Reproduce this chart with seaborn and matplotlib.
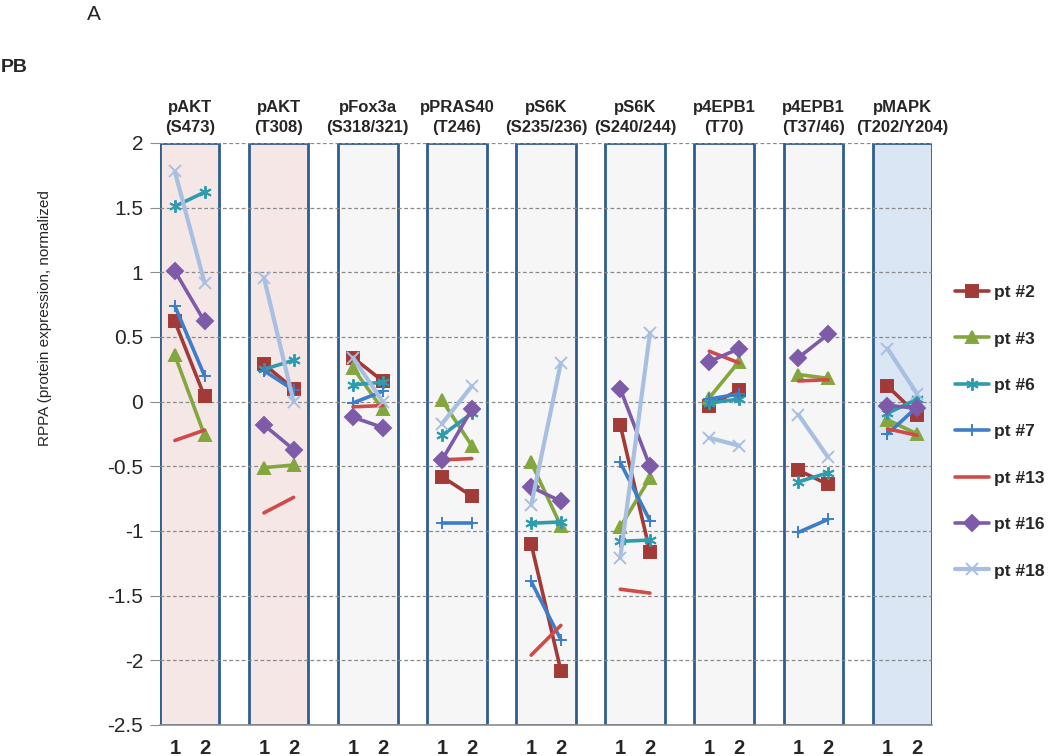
import pandas as pd
import matplotlib
matplotlib.use("Agg")
import matplotlib.pyplot as plt
from matplotlib.lines import Line2D
import seaborn as sns

# proteins / phospho sites, one panel each
proteins = ['pAKT\n(S473)', 'pAKT\n(T308)', 'pFox3a\n(S318/321)', 'pPRAS40\n(T246)',
            'pS6K\n(S235/236)', 'pS6K\n(S240/244)', 'p4EPB1\n(T70)', 'p4EPB1\n(T37/46)',
            'pMAPK\n(T202/Y204)']
box_colors = ['#F6E7E7', '#F6E7E7', '#F6F6F6', '#F6F6F6', '#F6F6F6', '#F6F6F6',
              '#F6F6F6', '#F6F6F6', '#DBE6F4']
timepoints = ['1', '2']

patients = ['pt #2', 'pt #3', 'pt #6', 'pt #7', 'pt #13', 'pt #16', 'pt #18']
colors = ['#A23A37', '#84A63F', '#2F9BAE', '#3E7EC8', '#D04B48', '#7E5BA8', '#A9BFE1']
markers = ['s', '^', (6, 2, 0), '+', None, 'D', 'x']

# (timepoint 1, timepoint 2) per protein
pt2 = [(0.62, 0.04), (0.29, 0.10), (0.34, 0.16), (-0.58, -0.73), (-1.10, -2.08),
       (-0.18, -1.16), (-0.03, 0.09), (-0.53, -0.64), (0.12, -0.10)]
pt3 = [(0.36, -0.26), (-0.51, -0.49), (0.26, -0.06), (0.01, -0.34), (-0.47, -0.96),
       (-0.97, -0.59), (0.03, 0.31), (0.21, 0.18), (-0.14, -0.25)]
pt6 = [(1.51, 1.62), (0.25, 0.32), (0.13, 0.15), (-0.26, -0.09), (-0.94, -0.93),
       (-1.08, -1.07), (-0.01, 0.02), (-0.62, -0.55), (-0.09, 0.02)]
pt7 = [(0.74, 0.20), (0.24, 0.09), (-0.01, 0.08), (-0.94, -0.94), (-1.39, -1.84),
       (-0.47, -0.92), (0.02, 0.06), (-1.01, -0.91), (-0.25, -0.04)]
pt13 = [(-0.30, -0.22), (-0.86, -0.74), (-0.04, -0.03), (-0.45, -0.44), (-1.96, -1.73),
        (-1.45, -1.48), (0.39, 0.30), (0.16, 0.17), (-0.21, -0.26)]
pt16 = [(1.01, 0.62), (-0.18, -0.37), (-0.12, -0.20), (-0.45, -0.06), (-0.66, -0.77),
        (0.10, -0.50), (0.31, 0.41), (0.34, 0.52), (-0.03, -0.05)]
pt18 = [(1.78, 0.92), (0.96, 0.00), (0.34, 0.00), (-0.17, 0.12), (-0.80, 0.30),
        (-1.21, 0.53), (-0.28, -0.34), (-0.10, -0.43), (0.41, 0.06)]
all_values = [pt2, pt3, pt6, pt7, pt13, pt16, pt18]

yticks = [2, 1.5, 1, 0.5, 0, -0.5, -1, -1.5, -2, -2.5]
ytick_labels = ['2', '1.5', '1', '0.5', '0', '-0.5', '-1', '-1.5', '-2', '-2.5']

# long table: each protein takes 3 category slots (1, 2, gap)
rows = []
for pt, vals in zip(patients, all_values):
    for k, pair in enumerate(vals):
        for t, v in enumerate(pair):
            rows.append({'patient': pt, 'protein': k, 'pos': 3 * k + t, 'value': v})
df = pd.DataFrame(rows)

sns.set_style("white")
plt.rcParams['font.family'] = ['Liberation Sans', 'DejaVu Sans']

fig = plt.figure(figsize=(10.5, 7.56), dpi=100)
ax = fig.add_axes([160 / 1050, 31 / 756, 772 / 1050, 582 / 756])

# panel boxes
centers = [3 * k + 0.5 for k in range(len(proteins))]
ax.bar(centers, height=4.5, bottom=-2.5, width=2, color=box_colors,
       edgecolor='#2F5D8F', linewidth=2, zorder=1)

handles = []
for pt, col, mk in zip(patients, colors, markers):
    sub = df[df['patient'] == pt]
    lw = 3.0 if pt == 'pt #18' else 2.6
    ms = 8 if mk in ('s', '^', 'D') else 9
    sns.lineplot(data=sub, x='pos', y='value', units='protein', estimator=None,
                 color=col, marker=mk, markersize=ms, markeredgecolor=col,
                 markeredgewidth=1.4, linewidth=lw, ax=ax, zorder=3, legend=False)
    handles.append(Line2D([], [], color=col, marker=mk, markersize=ms,
                          markeredgecolor=col, markeredgewidth=1.4, linewidth=lw, label=pt))

ax.set_xlim(-0.5, 3 * len(proteins) - 1.5)
ax.set_ylim(-2.5, 2)
ax.set_yticks(yticks)
ax.set_yticklabels(ytick_labels, fontsize=15)
xt = [3 * k + t for k in range(len(proteins)) for t in range(2)]
ax.set_xticks(xt)
ax.set_xticklabels(timepoints * len(proteins), fontsize=14.5, fontweight='bold')
ax.set_xticks([i - 0.5 for i in range(3 * len(proteins))], minor=True)
ax.tick_params(axis='x', which='major', length=0, pad=10)
ax.tick_params(axis='x', which='minor', length=5, color='#8C8C8C', direction='out')
ax.tick_params(axis='y', length=7, color='#8C8C8C', direction='out', pad=5, left=True)
ax.set_xlabel('')
ax.set_ylabel('')

ax.set_axisbelow(False)
ax.yaxis.grid(True, linestyle=(0, (3, 2)), color='#8A8A8A', linewidth=0.9)
ax.xaxis.grid(False)
for s in ['top', 'right', 'left']:
    ax.spines[s].set_visible(False)
ax.spines['bottom'].set_color('#8C8C8C')
ax.spines['bottom'].set_linewidth(1.2)

for c, name in zip(centers, proteins):
    ax.text(c, 2.06, name, ha='center', va='bottom', fontsize=12,
            fontweight='bold', linespacing=1.4)

ax.legend(handles=handles, loc='upper left', bbox_to_anchor=(955 / 1050, (756 - 285) / 756),
          bbox_transform=fig.transFigure, frameon=False, borderpad=0, borderaxespad=0,
          handlelength=1.95, handletextpad=0.3, labelspacing=1.8,
          prop={'size': 12.5, 'weight': 'bold'})

fig.text(45 / 1050, (756 - 318) / 756, 'RPPA (protein expression, normalized',
         rotation=90, ha='center', va='center', fontsize=11)
fig.text(94 / 1050, (756 - 15) / 756, 'A', ha='center', va='center', fontsize=15)
fig.text(1 / 1050, (756 - 67) / 756, 'PB', ha='left', va='center', fontsize=14,
         fontweight='bold')

fig.savefig('out.png', dpi=100)
